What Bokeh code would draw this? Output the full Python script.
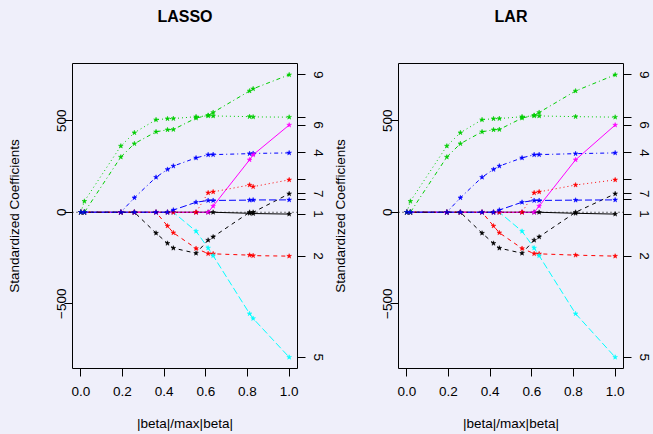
from bokeh.plotting import figure
from bokeh.models import FixedTicker, LinearAxis, Range1d, Span, Title
from bokeh.layouts import row
from bokeh.embed import file_html
from bokeh.resources import INLINE

# ---------------- data ----------------
var_ids = ["1", "2", "3", "4", "5", "6", "7", "8", "9", "10"]   # age sex bmi map tc ldl hdl tch ltg glu
right_labels_shown = ["9", "6", "4", "7", "1", "2", "5"]

lasso_frac = [0.0, 0.017, 0.192, 0.257, 0.361, 0.416, 0.444, 0.553, 0.611, 0.635, 0.810, 0.827, 1.0]
lasso_age = [0, 0, 0, 0, 0, 0, 0, 0, 0, 0, -5.7, -7.0, -10.0]
lasso_sex = [0, 0, 0, 0, 0, -74.9, -112.0, -197.8, -226.1, -227.2, -234.4, -237.1, -239.8]
lasso_bmi = [0, 60.1, 361.9, 434.8, 505.7, 511.3, 512.0, 522.3, 526.9, 526.4, 522.6, 521.1, 519.8]
lasso_map = [0, 0, 0, 79.2, 191.3, 234.2, 252.5, 297.2, 314.4, 315.0, 320.3, 321.5, 324.4]
lasso_tc = [0, 0, 0, 0, 0, 0, 0, -103.9, -195.1, -237.3, -554.3, -580.4, -792.2]
lasso_ldl = [0, 0, 0, 0, 0, 0, 0, 0, 0, 33.6, 286.7, 313.9, 476.7]
lasso_hdl = [0, 0, 0, 0, -114.1, -169.7, -196.0, -223.9, -152.5, -134.6, 0, 0, 101.0]
lasso_tch = [0, 0, 0, 0, 0, 0, 0, 0, 106.3, 111.4, 148.9, 139.9, 177.1]
lasso_ltg = [0, 0, 301.8, 374.9, 439.7, 450.7, 452.4, 514.7, 529.9, 545.5, 663.0, 674.9, 751.3]
lasso_glu = [0, 0, 0, 0, 0, 0, 12.1, 54.8, 64.5, 64.6, 66.3, 67.2, 67.6]

lar_frac = [0.0, 0.017, 0.192, 0.257, 0.361, 0.416, 0.444, 0.553, 0.611, 0.635, 0.810, 1.0]
lar_age = [0, 0, 0, 0, 0, 0, 0, 0, 0, 0, -5.7, -10.0]
lar_sex = [0, 0, 0, 0, 0, -74.9, -112.0, -197.8, -226.1, -227.2, -234.4, -239.8]
lar_bmi = [0, 60.1, 361.9, 434.8, 505.7, 511.3, 512.0, 522.3, 526.9, 526.4, 522.6, 519.8]
lar_map = [0, 0, 0, 79.2, 191.3, 234.2, 252.5, 297.2, 314.4, 315.0, 320.3, 324.4]
lar_tc = [0, 0, 0, 0, 0, 0, 0, -103.9, -195.1, -237.3, -554.3, -792.2]
lar_ldl = [0, 0, 0, 0, 0, 0, 0, 0, 0, 33.6, 286.7, 476.7]
lar_hdl = [0, 0, 0, 0, -114.1, -169.7, -196.0, -223.9, -152.5, -134.6, 0, 101.0]
lar_tch = [0, 0, 0, 0, 0, 0, 0, 0, 106.3, 111.4, 148.9, 177.1]
lar_ltg = [0, 0, 301.8, 374.9, 439.7, 450.7, 452.4, 514.7, 529.9, 545.5, 663.0, 751.3]
lar_glu = [0, 0, 0, 0, 0, 0, 12.1, 54.8, 64.5, 64.6, 66.3, 67.6]

x_ticks = [0.0, 0.2, 0.4, 0.6, 0.8, 1.0]
y_ticks = [-500, 0, 500]

# ---------------- style ----------------
BG = "#efeffa"
FONT = "Liberation Sans"
FS = "13.5px"
COLORS = ["#000000", "#ff0000", "#00cd00", "#0000ff", "#00ffff", "#ff00ff"]
DASHES = ["solid", "4 4", "1 3", "1 3 4 3", "7 3"]


def make_panel(title, frac, series, width, mb_left, mb_right):
    p = figure(width=width, height=434, output_backend="svg", toolbar_location=None,
               x_range=Range1d(-0.04, 1.04), y_range=Range1d(-853.9, 813.0),
               min_border_left=mb_left, min_border_right=mb_right,
               min_border_top=63, min_border_bottom=66,
               background_fill_color=BG, border_fill_color=BG,
               outline_line_color="black", outline_line_width=1,
               x_axis_label="|beta|/max|beta|",
               y_axis_label="Standardized Coefficients")
    p.grid.visible = False
    # spacer between title and frame, then the title itself
    p.add_layout(Title(text=" ", text_font_size="29px", standoff=0,
                       background_fill_color=None), "above")
    p.add_layout(Title(text=title, align="center", text_font=FONT,
                       text_font_size="16px", text_font_style="bold",
                       text_color="black"), "above")

    p.xaxis.ticker = FixedTicker(ticks=x_ticks)
    p.xaxis.major_label_overrides = {t: f"{t:.1f}" for t in x_ticks}
    p.yaxis.ticker = FixedTicker(ticks=y_ticks)
    p.yaxis.major_label_overrides = {-500: "\u2212500", 0: "0", 500: "500"}
    p.yaxis.major_label_orientation = "vertical"

    final_vals = [s[-1] for s in series]
    rax = LinearAxis(ticker=FixedTicker(ticks=final_vals))
    rax.major_label_overrides = {v: (vid if vid in right_labels_shown else "")
                                 for v, vid in zip(final_vals, var_ids)}
    rax.major_label_orientation = "vertical"
    p.add_layout(rax, "right")

    for ax in [p.xaxis[0], p.yaxis[0], rax]:
        ax.axis_line_color = None
        ax.major_tick_line_color = "black"
        ax.major_tick_in = 0
        ax.major_tick_out = 8
        ax.minor_tick_line_color = None
        ax.major_label_text_font = FONT
        ax.major_label_text_font_size = FS
        ax.major_label_text_color = "black"
        ax.axis_label_text_font = FONT
        ax.axis_label_text_font_size = FS
        ax.axis_label_text_font_style = "normal"
        ax.axis_label_text_color = "black"
    p.xaxis.major_label_standoff = 10
    p.xaxis.axis_label_standoff = 17
    p.yaxis.major_label_standoff = -2
    p.yaxis.axis_label_standoff = 33
    rax.major_label_standoff = 8

    p.add_layout(Span(location=0, dimension="width", line_color="black",
                      line_dash="1 3", line_width=1))

    for i, s in enumerate(series):
        c = COLORS[i % 6]
        d = DASHES[i % 5]
        p.line(frac, s, line_color=c, line_dash=d, line_width=1)
        p.scatter(frac, s, marker="star", size=5, fill_color=c, line_color=c, line_width=0.5)
    return p


lasso_series = [lasso_age, lasso_sex, lasso_bmi, lasso_map, lasso_tc,
                lasso_ldl, lasso_hdl, lasso_tch, lasso_ltg, lasso_glu]
lar_series = [lar_age, lar_sex, lar_bmi, lar_map, lar_tc,
              lar_ldl, lar_hdl, lar_tch, lar_ltg, lar_glu]

p1 = make_panel("LASSO", lasso_frac, lasso_series, 327, 72, 30)
p2 = make_panel("LAR", lar_frac, lar_series, 326, 71, 30)

layout = row(p1, p2, spacing=0)
layout.styles = {"background-color": BG}
open("out.html", "w").write(file_html(layout, INLINE))
